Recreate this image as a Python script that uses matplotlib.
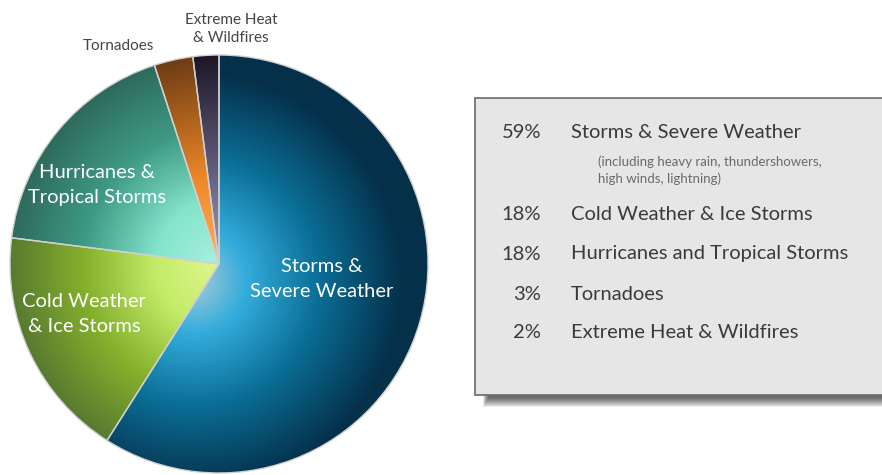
import numpy as np
import matplotlib
matplotlib.use("Agg")
import matplotlib.pyplot as plt
from matplotlib.colors import to_rgb
from matplotlib.patches import Rectangle

plt.rcParams['font.family'] = ['Lato', 'DejaVu Sans']

# data
categories = ["Storms & Severe Weather", "Cold Weather & Ice Storms",
              "Hurricanes and Tropical Storms", "Tornadoes", "Extreme Heat & Wildfires"]
shares = [59, 18, 18, 3, 2]
pie_labels = ["Storms &\nSevere Weather", "Cold Weather\n& Ice Storms",
              "Hurricanes &\nTropical Storms", "Tornadoes", "Extreme Heat\n& Wildfires"]
subnote = "(including heavy rain, thundershowers,\nhigh winds, lightning)"

# gradient stops per slice: (r fraction, colour), light at centre -> dark at rim
stops = [
    [(0.0, "#a8ccd8"), (0.25, "#34acdc"), (0.6, "#0b6e96"), (1.0, "#05304a")],
    [(0.0, "#e0f590"), (0.3, "#c4ec68"), (0.65, "#84b02c"), (1.0, "#587a30")],
    [(0.0, "#a8f0e0"), (0.3, "#84e4cc"), (0.65, "#3e9a84"), (1.0, "#2e6a5c")],
    [(0.0, "#ffb060"), (0.4, "#f08a28"), (1.0, "#6e3c14")],
    [(0.0, "#a49cb8"), (0.4, "#6a6484"), (1.0, "#1c1628")],
]
grad_offset = [(-0.12, -0.08), (0, 0), (0, 0), (0, 0), (0, 0)]

W, H = 882, 475
fig = plt.figure(figsize=(W / 100, H / 100), dpi=100)
ax = fig.add_axes([0, 0, 1, 1])

cx, cy, R = 219, 475 - 264, 209
wedges, _ = ax.pie(shares, center=(cx, cy), radius=R, startangle=90,
                   counterclock=False, frame=True,
                   wedgeprops=dict(edgecolor="#d0d0d0", linewidth=1.0, facecolor="none"))

# radial gradient fill, clipped to each wedge
n = 500
xs = np.linspace(cx - R, cx + R, n)
ys = np.linspace(cy - R, cy + R, n)
X, Y = np.meshgrid(xs, ys)
for w, st, off in zip(wedges, stops, grad_offset):
    gx, gy = cx + off[0] * R, cy + off[1] * R
    r = np.clip(np.hypot(X - gx, Y - gy) / R, 0, 1)
    pos = [s[0] for s in st]
    cols = np.array([to_rgb(s[1]) for s in st])
    img = np.dstack([np.interp(r, pos, cols[:, k]) for k in range(3)])
    im = ax.imshow(img, extent=(cx - R, cx + R, cy - R, cy + R), origin="lower",
                   zorder=1, interpolation="bilinear")
    im.set_clip_path(w)
    w.set_zorder(2)

# labels on/around the pie
lab = dict(color="white", fontsize=14.5, ha="center", va="center",
           linespacing=1.55, zorder=5)
ax.text(322, 475 - 279, pie_labels[0], **lab)
ax.text(84, 475 - 314, pie_labels[1], **lab)
ax.text(97, 475 - 185, pie_labels[2], **lab)
ax.text(118, 475 - 46, pie_labels[3], color="#444444", fontsize=11, ha="center",
        va="center", zorder=5)
ax.text(231, 475 - 29, pie_labels[4], color="#444444", fontsize=11, ha="center",
        va="center", linespacing=1.45, zorder=5)

# legend box with drop shadow
bx0, by0, bx1, by1 = 475, 475 - 395, 884, 475 - 98
for i in range(10):
    ax.add_patch(Rectangle((bx0 + 8 + i * 0.6, by0 - 12 + i * 1.0),
                           bx1 - bx0, by1 - by0, facecolor="black",
                           alpha=0.08, edgecolor="none", zorder=3))
ax.add_patch(Rectangle((bx0, by0), bx1 - bx0, by1 - by0, facecolor="#e6e6e6",
                       edgecolor="#6a6a6a", linewidth=1.2, zorder=4))

row_y = [133, 215, 254, 294, 333]
for name, val, y in zip(categories, shares, row_y):
    ax.text(541, 475 - y, f"{val}%", color="#3a3a3a", fontsize=14.5, ha="right",
            va="center", zorder=5)
    ax.text(571, 475 - y, name, color="#3a3a3a", fontsize=14.5, ha="left",
            va="center", zorder=5)
ax.text(598, 475 - 170, subnote, color="#6a6a6a", fontsize=9.5, ha="left",
        va="center", linespacing=1.45, zorder=5)

ax.set_xlim(0, W)
ax.set_ylim(0, H)
ax.axis("off")

fig.savefig("out.png", dpi=100, facecolor="white")
